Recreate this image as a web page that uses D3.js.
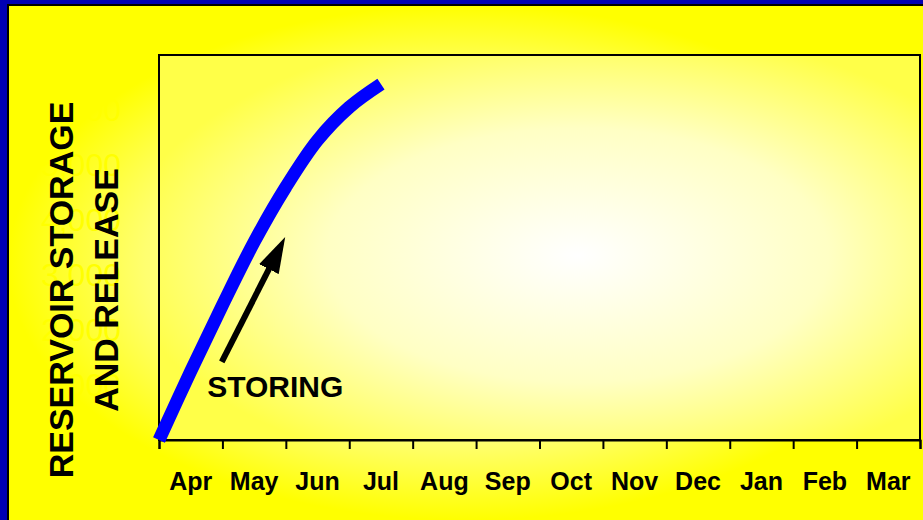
<!DOCTYPE html>
<html>
<head>
<meta charset="utf-8">
<script src="https://cdn.jsdelivr.net/npm/d3@7"></script>
<style>
  body { margin: 0; background: #0000b4; }
  svg { display: block; font-family: "Liberation Sans", Arial, sans-serif; }
</style>
</head>
<body>
<svg width="923" height="520"></svg>
<script>
// Month categories (water year starts in April)
const months = ["Apr", "May", "Jun", "Jul", "Aug", "Sep", "Oct", "Nov", "Dec", "Jan", "Feb", "Mar"];

// Storage curve, month offset from Apr 1 and volume
const storageMonth = [0, 0.5, 1, 1.5, 2, 2.5, 3, 3.5];
const storageValue = [0, 1250, 2450, 3600, 4600, 5450, 6050, 6470];

// Y tick values (labels drawn in yellow)
const yTicks = [0, 1000, 2000, 3000, 4000, 5000, 6000, 7000];

// Annotation arrow + label, in data units
const arrowFrom = { m: 0.99, v: 1420 };
const arrowTo = { m: 1.99, v: 3690 };
const storingLabel = { m: 0.76, v: 780, text: "STORING" };

const svg = d3.select("svg");
const width = +svg.attr("width");
const height = +svg.attr("height");

const plot = { left: 159, top: 55, right: 920, bottom: 440 };

const defs = svg.append("defs");

// outer chart area gradient (elliptical, lighter towards the middle)
const outerGrad = defs.append("radialGradient")
  .attr("id", "outerGrad")
  .attr("cx", 0.5).attr("cy", 0.5).attr("r", 0.5);
outerGrad.append("stop").attr("offset", 0).attr("stop-color", "#ffffff");
outerGrad.append("stop").attr("offset", 0.7).attr("stop-color", "#ffff70");
outerGrad.append("stop").attr("offset", 1).attr("stop-color", "#ffff00");

// plot area gradient
const plotGrad = defs.append("radialGradient")
  .attr("id", "plotGrad")
  .attr("cx", 0.55).attr("cy", 0.52).attr("r", 0.6);
plotGrad.append("stop").attr("offset", 0).attr("stop-color", "#ffffff");
plotGrad.append("stop").attr("offset", 0.55).attr("stop-color", "#ffffc4");
plotGrad.append("stop").attr("offset", 1).attr("stop-color", "#ffff48");

// arrow head
defs.append("marker")
  .attr("id", "head")
  .attr("markerUnits", "userSpaceOnUse")
  .attr("viewBox", "0 -11 36 22")
  .attr("markerWidth", 36)
  .attr("markerHeight", 22)
  .attr("refX", 16)
  .attr("refY", 0)
  .attr("orient", "auto")
  .append("path")
  .attr("d", "M0,-11L36,0L0,11Z")
  .attr("fill", "#000");

// background: blue frame and chart area
svg.append("rect").attr("width", width).attr("height", height).attr("fill", "#0000b4");
svg.append("rect")
  .attr("x", 8).attr("y", 5)
  .attr("width", width - 8).attr("height", height - 5)
  .attr("fill", "url(#outerGrad)");
svg.append("path")
  .attr("d", `M8,${height}V5H${width}`)
  .attr("fill", "none")
  .attr("stroke", "#000")
  .attr("stroke-width", 2);

// scales
const x = d3.scaleLinear().domain([0, 12]).range([plot.left, plot.right]);
const xBand = d3.scaleBand().domain(months).range([plot.left, plot.right]);
const y = d3.scaleLinear().domain([0, 7000]).range([plot.bottom, plot.top]);

// plot area
svg.append("rect")
  .attr("x", plot.left).attr("y", plot.top)
  .attr("width", plot.right - plot.left)
  .attr("height", plot.bottom - plot.top)
  .attr("fill", "url(#plotGrad)")
  .attr("stroke", "#000")
  .attr("stroke-width", 2);

// x tick marks at month boundaries
const xTickAxis = svg.append("g")
  .attr("transform", `translate(0,${plot.bottom})`)
  .call(d3.axisBottom(x).tickValues(d3.range(13)).tickSize(9).tickFormat(""));
xTickAxis.select(".domain").attr("stroke-width", 2);
xTickAxis.selectAll(".tick line").attr("stroke-width", 2);

// month labels centred between ticks
const xLabelAxis = svg.append("g")
  .attr("transform", `translate(0,${plot.bottom})`)
  .call(d3.axisBottom(xBand).tickSize(0));
xLabelAxis.select(".domain").remove();
xLabelAxis.selectAll("text")
  .attr("dy", null)
  .attr("y", 50)
  .attr("fill", "#000")
  .attr("font-size", 25)
  .attr("font-weight", "bold")
  .attr("font-family", "'Liberation Sans', Arial, sans-serif");

// y labels (yellow, nearly invisible)
const yAxis = svg.append("g")
  .attr("transform", `translate(${plot.left},0)`)
  .call(d3.axisLeft(y).tickValues(yTicks).tickSize(0).tickPadding(38)
    .tickFormat((d) => (d === 0 ? "-" : d3.format(",")(d))));
yAxis.select(".domain").remove();
yAxis.selectAll("text")
  .attr("fill", "#ffff00")
  .attr("font-size", 32)
  .attr("font-family", "'Liberation Sans', Arial, sans-serif");
yAxis.selectAll(".tick").filter((d) => d === 0).select("text").attr("x", -73);

// y axis title (two lines)
const titleLines = ["RESERVOIR STORAGE", "AND RELEASE"];
svg.selectAll("text.ytitle")
  .data(titleLines)
  .enter()
  .append("text")
  .attr("class", "ytitle")
  .attr("transform", (d, i) => `translate(${73 + i * 45},290) rotate(-90)`)
  .attr("text-anchor", "middle")
  .attr("font-size", 34)
  .attr("font-weight", "bold")
  .attr("fill", "#000")
  .text((d) => d);

// storage line
const storage = storageMonth.map((m, i) => ({ m, v: storageValue[i] }));
const line = d3.line()
  .x((d) => x(d.m))
  .y((d) => y(d.v))
  .curve(d3.curveCatmullRom.alpha(0.5));

svg.append("path")
  .datum(storage)
  .attr("d", line)
  .attr("fill", "none")
  .attr("stroke", "#0000ff")
  .attr("stroke-width", 13);

// annotation arrow, shaft stops short so the head covers the tip
const ax0 = x(arrowFrom.m), ay0 = y(arrowFrom.v);
const ax1 = x(arrowTo.m), ay1 = y(arrowTo.v);
const len = Math.hypot(ax1 - ax0, ay1 - ay0);
const ux = (ax1 - ax0) / len, uy = (ay1 - ay0) / len;

svg.append("line")
  .attr("x1", ax0).attr("y1", ay0)
  .attr("x2", ax1 - ux * 20).attr("y2", ay1 - uy * 20)
  .attr("stroke", "#000")
  .attr("stroke-width", 6)
  .attr("marker-end", "url(#head)");

svg.append("text")
  .attr("x", x(storingLabel.m))
  .attr("y", y(storingLabel.v))
  .attr("font-size", 30)
  .attr("font-weight", "bold")
  .attr("fill", "#000")
  .text(storingLabel.text);
</script>
</body>
</html>
